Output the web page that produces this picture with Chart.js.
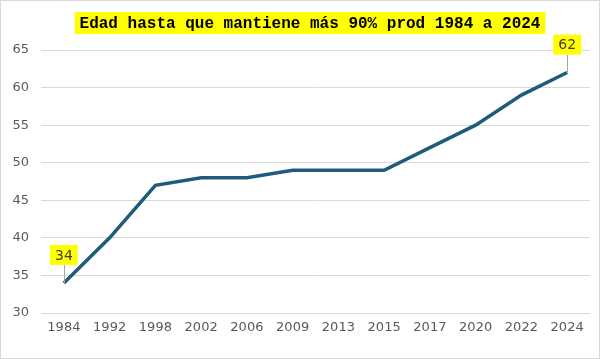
<!DOCTYPE html>
<html>
<head>
<meta charset="utf-8">
<script src="https://cdn.jsdelivr.net/npm/chart.js@4.4.1/dist/chart.umd.min.js"></script>
<style>
  html, body { margin: 0; padding: 0; background: #fff; }
  #wrap { width: 600px; height: 359px; position: relative; }
</style>
</head>
<body>
<div id="wrap"><canvas id="chart-line"></canvas></div>
<script>
// data
var titleText = "Edad hasta que mantiene más 90% prod 1984 a 2024";
var years = ["1984", "1992", "1998", "2002", "2006", "2009", "2013", "2015", "2017", "2020", "2022", "2024"];
var ages = [34, 40, 47, 48, 48, 49, 49, 49, 52, 55, 59, 62];
var labelIdx = [0, 11]; // points with a yellow callout
var yMin = 30, yMax = 65, yStep = 5;

// frame + title box
var framePlugin = {
    id: 'frame',
    beforeDraw: function (chart) {
        var c = chart.ctx;
        c.save();
        c.fillStyle = '#fff';
        c.fillRect(0, 0, chart.width, chart.height);
        c.strokeStyle = '#d9d9d9';
        c.lineWidth = 1;
        c.strokeRect(0.5, 0.5, chart.width - 1, chart.height - 1);
        c.restore();
    },
    afterDraw: function (chart) {
        var c = chart.ctx;
        c.save();
        c.font = 'bold 16px "Liberation Mono", monospace';
        var w = c.measureText(titleText).width;
        var cx = 310;
        c.fillStyle = '#ffff00';
        c.fillRect(cx - w / 2 - 5, 12, w + 10, 22);
        c.fillStyle = '#000';
        c.textAlign = 'center';
        c.textBaseline = 'middle';
        c.fillText(titleText, cx, 24);
        c.restore();
    }
};

// yellow callouts with leader line
var calloutPlugin = {
    id: 'callouts',
    afterDatasetsDraw: function (chart) {
        var c = chart.ctx;
        var meta = chart.getDatasetMeta(0);
        c.save();
        c.font = '14px "DejaVu Sans", sans-serif';
        c.textAlign = 'center';
        c.textBaseline = 'middle';
        labelIdx.forEach(function (i) {
            var pt = meta.data[i];
            var txt = String(ages[i]);
            var w = c.measureText(txt).width + 10;
            var h = 20;
            var bottom = pt.y - 18;
            c.strokeStyle = '#a6a6a6';
            c.lineWidth = 1;
            c.beginPath();
            c.moveTo(Math.round(pt.x) + 0.5, bottom);
            c.lineTo(Math.round(pt.x) + 0.5, pt.y);
            c.stroke();
            c.fillStyle = '#ffff00';
            c.fillRect(pt.x - w / 2, bottom - h, w, h);
            c.fillStyle = '#404040';
            c.fillText(txt, pt.x, bottom - h / 2 + 1);
        });
        c.restore();
    }
};

var ctx1 = document.getElementById("chart-line").getContext("2d");
new Chart(ctx1, {
    type: "line",
    data: {
        labels: years,
        datasets: [{
            label: "Edad",
            data: ages,
            borderColor: "#1f5c7c",
            borderWidth: 3.5,
            pointRadius: 0,
            tension: 0,
            fill: false
        }]
    },
    options: {
        responsive: true,
        maintainAspectRatio: false,
        animation: false,
        layout: { padding: { left: 0, right: 10, top: 50, bottom: 0 } },
        plugins: {
            legend: { display: false },
            title: { display: false },
            tooltip: { enabled: false }
        },
        scales: {
            y: {
                min: yMin,
                max: yMax,
                afterFit: function (s) { s.width = 41; },
                border: { display: false },
                grid: { color: '#d9d9d9', drawTicks: false },
                ticks: {
                    stepSize: yStep,
                    padding: 12,
                    color: '#595959',
                    font: { size: 13, family: "DejaVu Sans" }
                }
            },
            x: {
                offset: true,
                afterFit: function (s) { s.height = 46; },
                border: { display: false },
                grid: { display: false, drawTicks: false },
                ticks: {
                    padding: 7,
                    maxRotation: 0,
                    autoSkip: false,
                    color: '#595959',
                    font: { size: 13, family: "DejaVu Sans" }
                }
            }
        }
    },
    plugins: [framePlugin, calloutPlugin]
});
</script>
</body>
</html>
